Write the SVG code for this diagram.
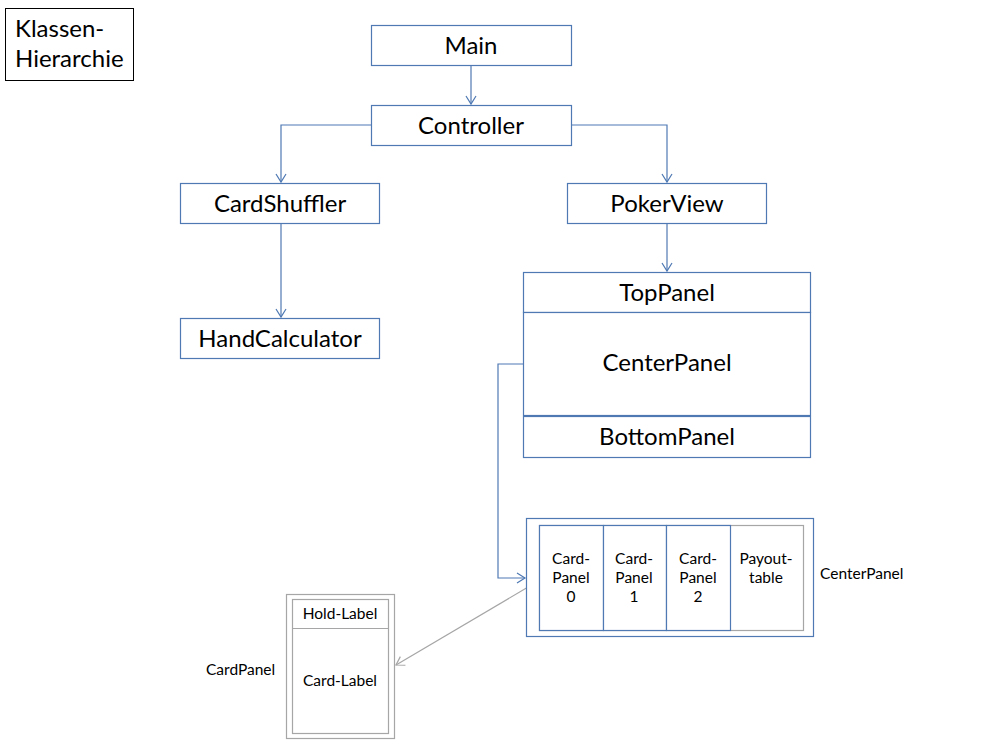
<svg xmlns="http://www.w3.org/2000/svg" width="997" height="749" viewBox="0 0 997 749">
<style>
.b{fill:#fff;stroke:#4f79b3;stroke-width:1.2}
.g{fill:#fff;stroke:#a6a6a6;stroke-width:1.2}
.k{fill:#fff;stroke:#000;stroke-width:1}
.t{font-family:Lato,"Liberation Sans",sans-serif;font-size:24px;fill:#000;text-anchor:middle}
.s{font-family:Lato,"Liberation Sans",sans-serif;font-size:15.5px;fill:#000;text-anchor:middle}
.l{text-anchor:start}
.cb{fill:none;stroke:#4f79b3;stroke-width:1.2}
.cg{fill:none;stroke:#a6a6a6;stroke-width:1.2}
</style>
<defs>
<marker id="ab" markerWidth="12" markerHeight="12" refX="10" refY="6" orient="auto" markerUnits="userSpaceOnUse"><path d="M2,1 L10,6 L2,11" fill="none" stroke="#4f79b3" stroke-width="1.2"/></marker>
<marker id="ag" markerWidth="12" markerHeight="12" refX="10" refY="6" orient="auto" markerUnits="userSpaceOnUse"><path d="M2,1 L10,6 L2,11" fill="none" stroke="#a6a6a6" stroke-width="1.2"/></marker>
</defs>
<rect width="997" height="749" fill="#fff"/>
<g id="title">
<rect class="k" x="5.5" y="8.5" width="128" height="72"/>
<text class="t l" x="15" y="37">Klassen-</text>
<text class="t l" x="15" y="67">Hierarchie</text>
</g>
<g id="connectors">
<path class="cb" d="M471,65 V104" marker-end="url(#ab)"/>
<path class="cb" d="M371,125 H281 V182" marker-end="url(#ab)"/>
<path class="cb" d="M571,125 H667 V182" marker-end="url(#ab)"/>
<path class="cb" d="M281,223 V317" marker-end="url(#ab)"/>
<path class="cb" d="M667,223 V271" marker-end="url(#ab)"/>
<path class="cb" d="M523,364 H498 V578 H525" marker-end="url(#ab)"/>
<path class="cg" d="M540,580 L396,665" marker-end="url(#ag)"/>
</g>
<g id="main"><rect class="b" x="371.5" y="25.5" width="200" height="40"/><text class="t" x="471" y="54">Main</text></g>
<g id="controller"><rect class="b" x="371.5" y="105.5" width="200" height="40"/><text class="t" x="471" y="134">Controller</text></g>
<g id="cardshuffler"><rect class="b" x="180.5" y="183.5" width="199" height="40"/><text class="t" x="280" y="212">CardShuffler</text></g>
<g id="pokerview"><rect class="b" x="567.5" y="183.5" width="199" height="40"/><text class="t" x="667" y="212">PokerView</text></g>
<g id="handcalculator"><rect class="b" x="180.5" y="318.5" width="199" height="40"/><text class="t" x="280" y="347">HandCalculator</text></g>
<g id="panels">
<rect class="b" x="523.5" y="272.5" width="287" height="40"/><text class="t" x="667" y="301">TopPanel</text>
<rect class="b" x="523.5" y="312.5" width="287" height="103"/><text class="t" x="667" y="371">CenterPanel</text>
<rect class="b" x="523.5" y="416.5" width="287" height="41"/><text class="t" x="667" y="445">BottomPanel</text>
</g>
<g id="centerpanel">
<rect class="b" x="526.5" y="518.5" width="287" height="118"/>
<rect class="g" x="539.5" y="525.5" width="264" height="105"/>
<rect class="b" x="539.5" y="525.5" width="64" height="105"/>
<rect class="b" x="603.5" y="525.5" width="63" height="105"/>
<rect class="b" x="666.5" y="525.5" width="64" height="105"/>
<text class="s" x="571" y="564">Card-</text><text class="s" x="571" y="583">Panel</text><text class="s" x="571" y="602">0</text>
<text class="s" x="634" y="564">Card-</text><text class="s" x="634" y="583">Panel</text><text class="s" x="634" y="602">1</text>
<text class="s" x="698" y="564">Card-</text><text class="s" x="698" y="583">Panel</text><text class="s" x="698" y="602">2</text>
<text class="s" x="766" y="564">Payout-</text><text class="s" x="766" y="583">table</text>
<text class="s l" x="820" y="579">CenterPanel</text>
</g>
<g id="cardpanel">
<rect class="g" x="286.5" y="594.5" width="108" height="144"/>
<rect class="g" x="292.5" y="599.5" width="96" height="134"/>
<line class="cg" x1="292" y1="628.5" x2="389" y2="628.5"/>
<text class="s" x="340" y="619">Hold-Label</text>
<text class="s" x="340" y="686">Card-Label</text>
<text class="s l" x="206" y="675">CardPanel</text>
</g>
</svg>
